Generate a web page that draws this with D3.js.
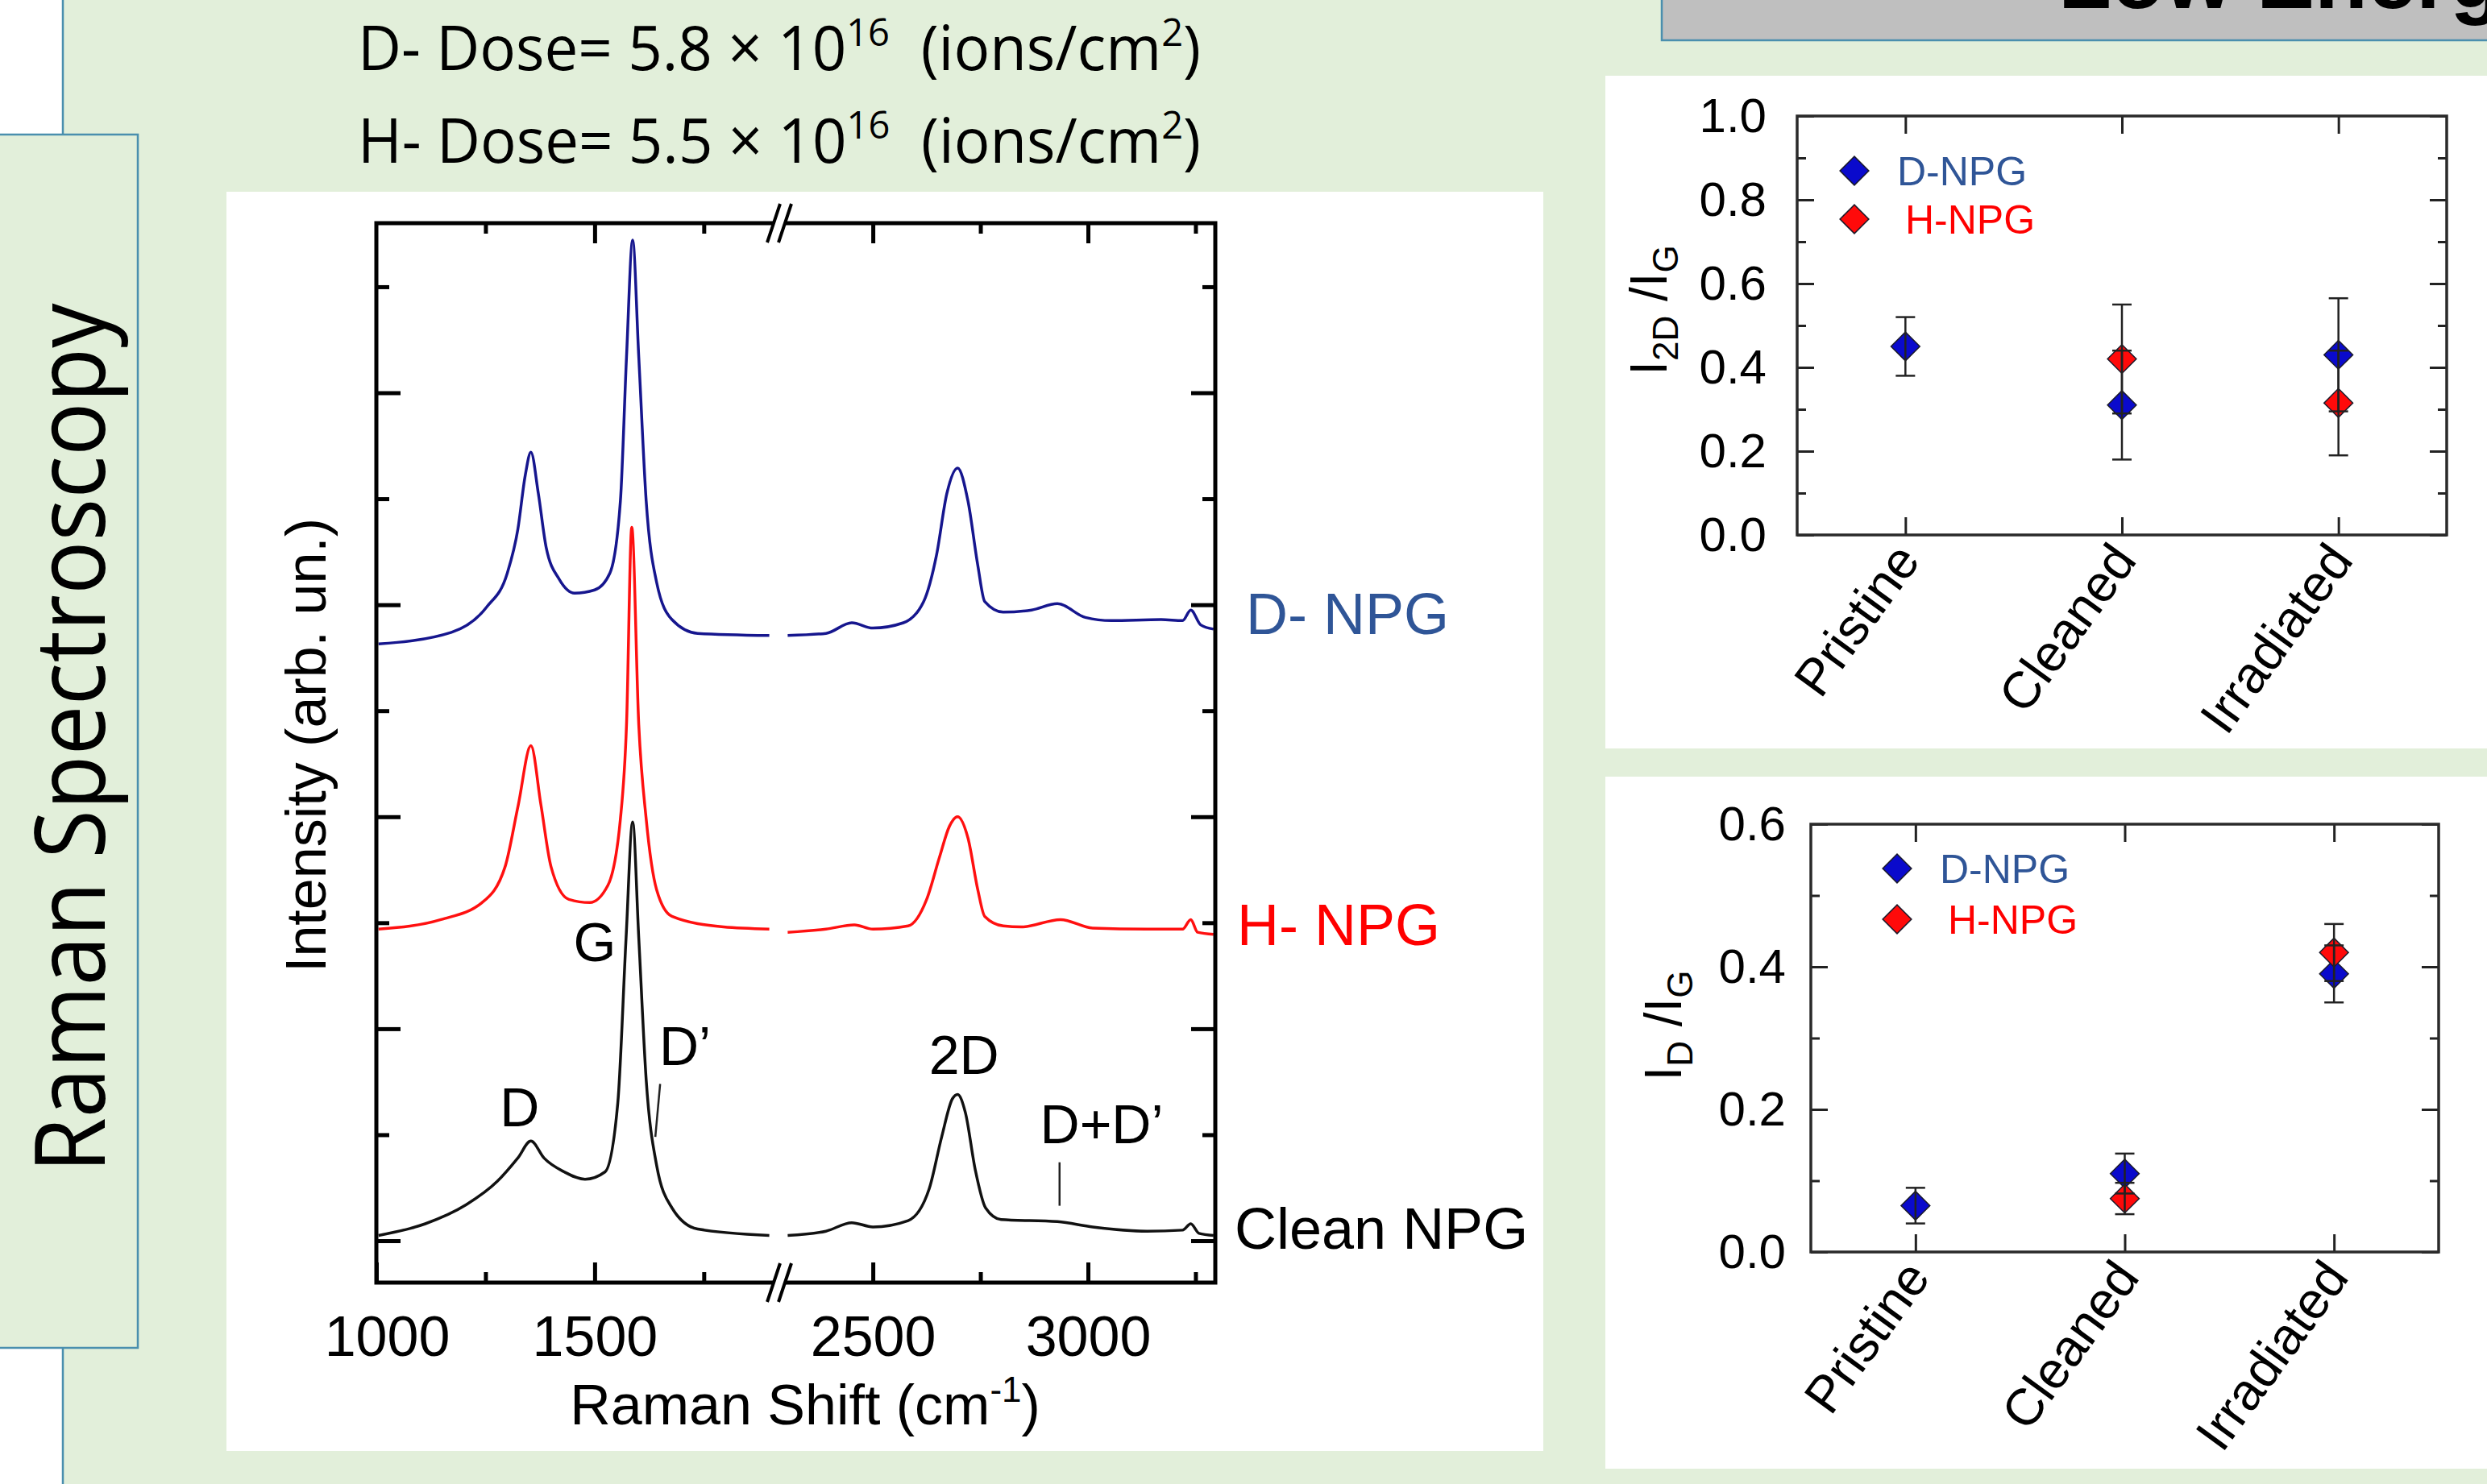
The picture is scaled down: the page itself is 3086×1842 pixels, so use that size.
<!DOCTYPE html>
<html>
<head>
<meta charset="utf-8">
<title>Raman Spectroscopy</title>
<style>
    body { margin: 0; background: #e2efda; }
    svg { display: block; }
    text { font-family: "Liberation Sans", Arial, sans-serif; white-space: pre; }
    .slide-font { font-family: "Open Sans", "Noto Sans", sans-serif; }
</style>
<script src="https://cdn.jsdelivr.net/npm/d3@7"></script>
</head>
<body>
<svg id="slide" width="3086" height="1842"></svg>
<script>
    // ---- data ----
    const doseLines = [
        ['D- Dose= 5.8 × 10', '16', '\u00A0 (ions/cm', '2', ')'],
        ['H- Dose= 5.5 × 10', '16', '\u00A0 (ions/cm', '2', ')']
    ];

    // [Raman shift (cm-1), intensity (arb. un., tick units)]
    const dnpgSpectrum = [[1005,5.63],[1172,5.74],[1253,5.98],[1300,6.30],[1324,6.71],[1341,7.22],[1354,7.44],[1371,7.05],[1389,6.54],[1419,6.24],[1454,6.11],[1500,6.14],[1535,6.30],[1559,6.98],[1573,8.34],[1587,9.44],[1601,8.34],[1618,6.98],[1642,6.21],[1677,5.86],[1736,5.73],[1900,5.71],
        [2302,5.71],[2391,5.73],[2451,5.83],[2500,5.78],[2571,5.83],[2618,6.03],[2648,6.47],[2672,7.05],[2697,7.29],[2721,6.98],[2744,6.37],[2760,6.03],[2803,5.93],[2869,5.95],[2929,6.01],[2994,5.88],[3054,5.85],[3170,5.86],[3220,5.85],[3239,5.95],[3262,5.81],[3292,5.77]];
    const hnpgSpectrum = [[1005,2.94],[1148,3.03],[1242,3.19],[1295,3.53],[1325,4.11],[1354,4.67],[1377,4.11],[1400,3.53],[1441,3.22],[1489,3.19],[1530,3.35],[1559,3.98],[1573,4.87],[1585,6.73],[1601,4.87],[1618,3.98],[1642,3.31],[1677,3.06],[1795,2.96],[1900,2.94],
        [2302,2.91],[2391,2.94],[2457,2.98],[2500,2.94],[2582,2.97],[2625,3.22],[2655,3.62],[2678,3.91],[2697,4.00],[2721,3.80],[2744,3.31],[2760,3.06],[2803,2.97],[2845,2.96],[2936,3.03],[3011,2.95],[3137,2.94],[3220,2.94],[3239,3.03],[3255,2.91],[3292,2.89]];
    const cleanSpectrum = [[1005,0.05],[1112,0.16],[1206,0.34],[1277,0.56],[1324,0.78],[1354,0.94],[1384,0.78],[1430,0.65],[1478,0.58],[1524,0.65],[1553,1.30],[1572,2.86],[1587,3.95],[1601,2.86],[1618,1.52],[1642,0.71],[1677,0.31],[1736,0.11],[1900,0.05],
        [2302,0.05],[2391,0.09],[2451,0.17],[2500,0.13],[2582,0.19],[2631,0.49],[2660,0.98],[2685,1.34],[2697,1.38],[2715,1.21],[2738,0.67],[2762,0.31],[2798,0.20],[2929,0.18],[3011,0.13],[3137,0.09],[3220,0.10],[3239,0.16],[3258,0.07],[3292,0.05]];

    const shiftMajorTicks = [1000, 1500, 2500, 3000];
    const shiftMinorTicks = [1250, 1750, 2750, 3250];
    const intensityMajorTicks = [0, 2, 4, 6, 8];
    const intensityMinorTicks = [1, 3, 5, 7, 9];

    // peak annotations: [label, shift, intensity]
    const peakLabels = [['D', 1328, 1.08], ['G', 1500, 2.64], ['D’', 1707, 1.66], ['2D', 2712, 1.57], ['D+D’', 3032, 0.92]];
    const peakMarkers = [[[1650, 1.48], [1639, 0.98]], [[2934, 0.74], [2934, 0.33]]];

    const categories = ['Pristine', 'Cleaned', 'Irradiated'];
    const i2dOverIgD = [0.45, 0.31, 0.43];
    const i2dOverIgDErr = [0.07, 0.13, 0.135];
    const i2dOverIgH = [null, 0.42, 0.315];
    const i2dOverIgHErr = [null, 0.13, 0.125];
    const idOverIgD = [0.065, 0.11, 0.39];
    const idOverIgDErr = [0.025, 0.028, 0.04];
    const idOverIgH = [null, 0.075, 0.42];
    const idOverIgHErr = [null, 0.022, 0.04];

    // ---- slide frame ----
    const svg = d3.select('#slide');
    const teal = '#4a8fae';

    svg.append('rect').attr('width', 3086).attr('height', 1842).attr('fill', '#e2efda');
    svg.append('rect').attr('x', 0).attr('y', 0).attr('width', 78).attr('height', 167).attr('fill', '#fff');
    svg.append('rect').attr('x', 0).attr('y', 1673).attr('width', 78).attr('height', 169).attr('fill', '#fff');
    svg.append('line').attr('x1', 78).attr('x2', 78).attr('y1', 0).attr('y2', 1842)
        .attr('stroke', teal).attr('stroke-width', 2.5);
    svg.append('rect').attr('x', -3).attr('y', 167).attr('width', 174).attr('height', 1506)
        .attr('fill', '#e2efda').attr('stroke', teal).attr('stroke-width', 2.5);
    svg.append('text').attr('class', 'slide-font')
        .attr('transform', 'translate(130,916) rotate(-90)')
        .attr('text-anchor', 'middle').attr('font-size', 120)
        .attr('textLength', 1079).attr('lengthAdjust', 'spacingAndGlyphs')
        .text('Raman Spectroscopy');

    // cut-off title box, top right
    svg.append('rect').attr('x', 2062).attr('y', -10).attr('width', 1040).attr('height', 60)
        .attr('fill', '#bfbfbf').attr('stroke', teal).attr('stroke-width', 2.5);
    svg.append('text').attr('x', 2554).attr('y', 10).attr('font-size', 108).attr('font-weight', 'bold')
        .text('Low Energy Ion Irradiation');

    // dose lines
    doseLines.forEach((parts, i) => {
        const t = svg.append('text').attr('class', 'slide-font')
            .attr('x', 444).attr('y', [87, 202][i]).attr('font-size', 76)
            .attr('textLength', 1046).attr('lengthAdjust', 'spacingAndGlyphs');
        parts.forEach((p, j) => {
            const sup = j % 2 === 1;
            t.append('tspan').attr('font-size', sup ? 48 : 76)
                .attr('dy', sup ? -30 : (j > 0 ? 30 : 0)).text(p);
        });
    });

    // ---- Raman spectra ----
    svg.append('rect').attr('x', 281).attr('y', 238).attr('width', 1634).attr('height', 1563).attr('fill', '#fff');

    const frame = { left: 467, right: 1508, top: 277, bottom: 1592 };
    const xLow = d3.scaleLinear().domain([1000, 1910]).range([467, 960]);
    const xHigh = d3.scaleLinear().domain([2290, 3296]).range([971, 1508]);
    const shiftX = v => v < 2100 ? xLow(v) : xHigh(v);
    const yInt = d3.scaleLinear().domain([-0.395, 9.6]).range([frame.bottom, frame.top]);

    const plot = svg.append('g');

    function ticks(axisFn, scale, values, size, pos, horizontal, fmt, pad) {
        const g = plot.append('g')
            .attr('transform', horizontal ? `translate(0,${pos})` : `translate(${pos},0)`)
            .call(axisFn(scale).tickValues(values).tickSizeInner(size).tickSizeOuter(0)
                .tickPadding(pad || 0).tickFormat(fmt || (() => '')));
        g.select('.domain').remove();
        g.selectAll('line').attr('stroke', '#000').attr('stroke-width', 5);
        g.selectAll('text').attr('font-size', 70).attr('font-family', '"Liberation Sans", Arial, sans-serif').attr('fill', '#000');
        return g;
    }

    [[xLow, shiftMajorTicks.filter(v => v < 2000), shiftMinorTicks.filter(v => v < 2000)],
     [xHigh, shiftMajorTicks.filter(v => v > 2000), shiftMinorTicks.filter(v => v > 2000)]].forEach(([sc, maj, min]) => {
        const labels = ticks(d3.axisBottom, sc, maj, -25, frame.bottom, true, d3.format('d'), 41);
        labels.selectAll('text').filter(d => d === 1000).attr('dx', 13);
        ticks(d3.axisBottom, sc, min, -13, frame.bottom, true);
        ticks(d3.axisTop, sc, maj.filter(v => v > 1000), -25, frame.top, true);
        ticks(d3.axisTop, sc, min, -13, frame.top, true);
    });
    ticks(d3.axisLeft, yInt, intensityMajorTicks, -30, frame.left, false);
    ticks(d3.axisLeft, yInt, intensityMinorTicks, -16, frame.left, false);
    ticks(d3.axisRight, yInt, intensityMajorTicks, -30, frame.right, false);
    ticks(d3.axisRight, yInt, intensityMinorTicks, -16, frame.right, false);

    const spectra = [
        { pts: dnpgSpectrum, color: '#16168e', label: 'D- NPG', labelColor: '#2f5597', lx: 1546, ly: 787 },
        { pts: hnpgSpectrum, color: '#ff1010', label: 'H- NPG', labelColor: '#ff0000', lx: 1535, ly: 1173 },
        { pts: cleanSpectrum, color: '#111', label: 'Clean NPG', labelColor: '#000', lx: 1532, ly: 1550 }
    ];
    const line = d3.line().x(d => shiftX(d[0])).y(d => yInt(d[1])).curve(d3.curveMonotoneX);
    spectra.forEach(s => {
        [s.pts.filter(p => p[0] < 2100), s.pts.filter(p => p[0] > 2100)].forEach(seg => {
            plot.append('path').attr('d', line(seg)).attr('fill', 'none')
                .attr('stroke', s.color).attr('stroke-width', 3.5).attr('stroke-linejoin', 'round');
        });
        svg.append('text').attr('x', s.lx).attr('y', s.ly).attr('font-size', 72)
            .attr('fill', s.labelColor).text(s.label);
    });

    // frame with axis breaks
    plot.append('rect').attr('x', frame.left).attr('y', frame.top)
        .attr('width', frame.right - frame.left).attr('height', frame.bottom - frame.top)
        .attr('fill', 'none').attr('stroke', '#000').attr('stroke-width', 5);
    [frame.top, frame.bottom].forEach(yy => {
        plot.append('rect').attr('x', 959).attr('y', yy - 6).attr('width', 16).attr('height', 12).attr('fill', '#fff');
        [952, 966].forEach(x0 => plot.append('line')
            .attr('x1', x0).attr('y1', yy + 24).attr('x2', x0 + 16).attr('y2', yy - 24)
            .attr('stroke', '#000').attr('stroke-width', 4));
    });

    peakLabels.forEach(([t, s, v]) => {
        plot.append('text').attr('x', shiftX(s)).attr('y', yInt(v)).attr('text-anchor', 'middle')
            .attr('font-size', 68).text(t);
    });
    peakMarkers.forEach(m => {
        plot.append('line').attr('x1', shiftX(m[0][0])).attr('y1', yInt(m[0][1]))
            .attr('x2', shiftX(m[1][0])).attr('y2', yInt(m[1][1]))
            .attr('stroke', '#222').attr('stroke-width', 2.5);
    });

    plot.append('text').attr('x', 999).attr('y', 1768).attr('text-anchor', 'middle').attr('font-size', 70)
        .call(t => {
            t.append('tspan').text('Raman Shift (cm');
            t.append('tspan').attr('font-size', 44).attr('dy', -28).text('-1');
            t.append('tspan').attr('dy', 28).text(')');
        });
    plot.append('text').attr('transform', 'translate(404,925) rotate(-90)').attr('text-anchor', 'middle')
        .attr('font-size', 70).text('Intensity (arb. un.)');

    // ---- ratio panels ----
    function ratioPanel(cfg) {
        const g = svg.append('g');
        g.append('rect').attr('x', cfg.panel[0]).attr('y', cfg.panel[1])
            .attr('width', cfg.panel[2]).attr('height', cfg.panel[3]).attr('fill', '#fff');

        const x = d3.scalePoint().domain(categories).range([cfg.left, cfg.right]).padding(0.5);
        const y = d3.scaleLinear().domain(cfg.yDomain).range([cfg.bottom, cfg.top]);

        const tk = (axisFn, sc, values, size, tr, fmt, pad) => {
            const a = g.append('g').attr('transform', tr)
                .call(axisFn(sc).tickValues(values).tickSizeInner(size).tickSizeOuter(0)
                    .tickPadding(pad || 0).tickFormat(fmt || (() => '')));
            a.select('.domain').remove();
            a.selectAll('line').attr('stroke', '#222').attr('stroke-width', 3);
            a.selectAll('text').attr('font-size', 60).attr('fill', '#000')
                .attr('font-family', '"Liberation Sans", Arial, sans-serif');
        };
        tk(d3.axisLeft, y, cfg.major, -21, `translate(${cfg.left},0)`, d3.format('.1f'), cfg.labelPad);
        tk(d3.axisLeft, y, cfg.minor, -11, `translate(${cfg.left},0)`);
        tk(d3.axisRight, y, cfg.major, -21, `translate(${cfg.right},0)`);
        tk(d3.axisRight, y, cfg.minor, -11, `translate(${cfg.right},0)`);
        tk(d3.axisBottom, x, categories, -22, `translate(0,${cfg.bottom})`);
        tk(d3.axisTop, x, categories, -22, `translate(0,${cfg.top})`);

        g.append('rect').attr('x', cfg.left).attr('y', cfg.top)
            .attr('width', cfg.right - cfg.left).attr('height', cfg.bottom - cfg.top)
            .attr('fill', 'none').attr('stroke', '#2a2a2a').attr('stroke-width', 3.5);

        categories.forEach(c => {
            g.append('text').attr('transform', `translate(${x(c) + 20},${cfg.bottom + 32}) rotate(-54)`)
                .attr('text-anchor', 'end').attr('font-size', 64).text(c);
        });

        const diamond = d3.symbol(d3.symbolSquare, 640);
        const series = [
            { vals: cfg.dVals, errs: cfg.dErrs, fill: '#0a0acc' },
            { vals: cfg.hVals, errs: cfg.hErrs, fill: '#ff0a0a' }
        ];
        series.forEach(s => {
            s.vals.forEach((v, i) => {
                if (v === null) return;
                g.append('path').attr('d', diamond())
                    .attr('transform', `translate(${x(categories[i])},${y(v)}) rotate(45)`)
                    .attr('fill', s.fill).attr('stroke', '#1a1a2a').attr('stroke-width', 1.5);
            });
        });
        series.forEach(s => {
            s.vals.forEach((v, i) => {
                if (v === null) return;
                const cx = x(categories[i]), lo = y(v - s.errs[i]), hi = y(v + s.errs[i]);
                g.append('line').attr('x1', cx).attr('x2', cx).attr('y1', lo).attr('y2', hi)
                    .attr('stroke', '#222').attr('stroke-width', 2.5);
                [lo, hi].forEach(yy => g.append('line').attr('x1', cx - 12).attr('x2', cx + 12)
                    .attr('y1', yy).attr('y2', yy).attr('stroke', '#222').attr('stroke-width', 2.5));
            });
        });

        // legend
        [['D-NPG', '#0a0acc', '#2f5597', 0, 0], ['H-NPG', '#ff0a0a', '#ff0000', cfg.legendGap, 10]].forEach(([t, f, c, dy, dx]) => {
            g.append('path').attr('d', diamond())
                .attr('transform', `translate(${cfg.legend[0]},${cfg.legend[1] + dy}) rotate(45)`)
                .attr('fill', f).attr('stroke', '#1a1a2a').attr('stroke-width', 1.5);
            g.append('text').attr('x', cfg.legend[0] + 53 + dx).attr('y', cfg.legend[1] + dy)
                .attr('dy', '0.35em').attr('font-size', 50).attr('fill', c).text(t);
        });

        // y label: I_sub / I_G
        g.append('text').attr('transform', `translate(${cfg.yLabel[0]},${cfg.yLabel[1]}) rotate(-90)`)
            .attr('text-anchor', 'middle').attr('font-size', 64)
            .call(t => {
                t.append('tspan').text('I');
                t.append('tspan').attr('font-size', 44).attr('dy', 14).text(cfg.sub);
                t.append('tspan').attr('dy', -14).text(' /I');
                t.append('tspan').attr('font-size', 44).attr('dy', 14).text('G');
            });
    }

    ratioPanel({
        panel: [1992, 94, 1100, 835],
        left: 2230, right: 3036, top: 144, bottom: 664,
        yDomain: [0, 1], major: [0, 0.2, 0.4, 0.6, 0.8, 1.0], minor: [0.1, 0.3, 0.5, 0.7, 0.9], labelPad: 38,
        dVals: i2dOverIgD, dErrs: i2dOverIgDErr, hVals: i2dOverIgH, hErrs: i2dOverIgHErr,
        legend: [2301, 212], legendGap: 60, yLabel: [2068, 385], sub: '2D'
    });
    ratioPanel({
        panel: [1992, 964, 1100, 859],
        left: 2247, right: 3026, top: 1023, bottom: 1554,
        yDomain: [0, 0.6], major: [0, 0.2, 0.4, 0.6], minor: [0.1, 0.3, 0.5], labelPad: 31,
        dVals: idOverIgD, dErrs: idOverIgDErr, hVals: idOverIgH, hErrs: idOverIgHErr,
        legend: [2354, 1078], legendGap: 63, yLabel: [2086, 1273], sub: 'D'
    });
</script>
</body>
</html>
